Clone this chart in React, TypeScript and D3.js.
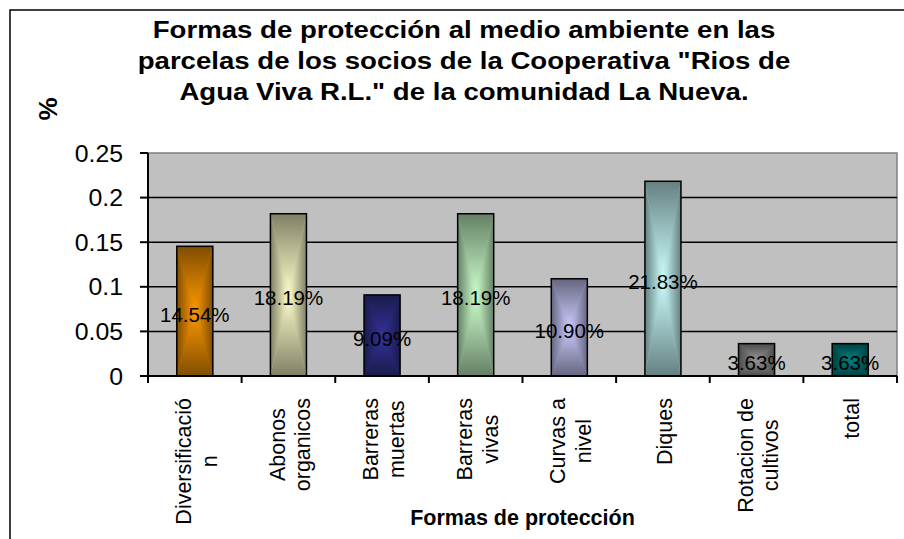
import { useEffect, useRef } from 'react';
import * as d3 from 'd3';

const titleLines = [
  'Formas de protección al medio ambiente en las',
  'parcelas de los socios de la Cooperativa "Rios de',
  'Agua Viva R.L." de la comunidad La Nueva.',
];
const categories = [
  ['Diversificació', 'n'],
  ['Abonos', 'organicos'],
  ['Barreras', 'muertas'],
  ['Barreras', 'vivas'],
  ['Curvas a', 'nivel'],
  ['Diques'],
  ['Rotacion de', 'cultivos'],
  ['total'],
];
const values = [0.1454, 0.1819, 0.0909, 0.1819, 0.109, 0.2183, 0.0363, 0.0363];
const valueLabels = ['14.54%', '18.19%', '9.09%', '18.19%', '10.90%', '21.83%', '3.63%', '3.63%'];
const barColors = ['#ff9900', '#ffffcc', '#333399', '#ccffcc', '#ccccff', '#ccffff', '#969696', '#008080'];
const yTicks = [0, 0.05, 0.1, 0.15, 0.2, 0.25];
const yTickLabels = ['0', '0.05', '0.1', '0.15', '0.2', '0.25'];

const W = 904;
const H = 539;
const plot = { left: 148, right: 897, top: 153, bottom: 376 };
const font = '"Liberation Sans", Arial, Helvetica, sans-serif';

export default function App() {
  const svgRef = useRef<SVGSVGElement>(null);

  useEffect(() => {
    if (!svgRef.current) return;
    const svg = d3.select(svgRef.current);
    svg.selectAll('*').remove();

    const ids = categories.map((_, i) => `c${i}`);
    const x = d3.scaleBand<string>().domain(ids).range([plot.left, plot.right]).paddingInner(0.615).paddingOuter(0.3075);
    const y = d3.scaleLinear().domain([0, 0.25]).range([plot.bottom, plot.top]);

    // chart area
    svg.append('rect').attr('x', 10).attr('y', 10).attr('width', 930).attr('height', 580)
      .attr('fill', '#fff').attr('stroke', '#000').attr('stroke-width', 1.5);

    // title
    titleLines.forEach((t, i) => {
      svg.append('g')
        .attr('transform', `translate(464,${38 + i * 31}) scale(1.15,1)`)
        .append('text')
        .attr('text-anchor', 'middle')
        .attr('font-family', font)
        .attr('font-weight', 'bold')
        .attr('font-size', 24)
        .text(t);
    });

    // plot area
    svg.append('rect')
      .attr('x', plot.left).attr('y', plot.top)
      .attr('width', plot.right - plot.left).attr('height', plot.bottom - plot.top)
      .attr('fill', '#c0c0c0').attr('stroke', '#808080').attr('stroke-width', 1.5);

    yTicks.filter((t) => t > 0 && t < 0.25).forEach((t) => {
      svg.append('line')
        .attr('x1', plot.left).attr('x2', plot.right)
        .attr('y1', y(t)).attr('y2', y(t))
        .attr('stroke', '#000').attr('stroke-width', 1.5);
    });

    // gradients: rectangular "from center" fill built from 4 triangles
    const defs = svg.append('defs');
    barColors.forEach((c, i) => {
      const dark = d3.interpolateRgb(c, '#000')(0.5);
      const mk = (id: string, vertical: boolean, inward: boolean) => {
        const g = defs.append('linearGradient').attr('id', id)
          .attr('x1', 0).attr('y1', 0)
          .attr('x2', vertical ? 0 : 1).attr('y2', vertical ? 1 : 0);
        g.append('stop').attr('offset', 0).attr('stop-color', inward ? dark : c);
        g.append('stop').attr('offset', 1).attr('stop-color', inward ? c : dark);
      };
      mk(`gl${i}`, false, true);
      mk(`gr${i}`, false, false);
      mk(`gt${i}`, true, true);
      mk(`gb${i}`, true, false);
    });

    values.forEach((v, i) => {
      const x0 = x(ids[i])!;
      const x1 = x0 + x.bandwidth();
      const y0 = y(v);
      const y1 = y(0);
      const cx = (x0 + x1) / 2;
      const cy = (y0 + y1) / 2;
      const g = svg.append('g');
      g.append('rect').attr('x', x0).attr('y', y0).attr('width', x1 - x0).attr('height', y1 - y0)
        .attr('fill', d3.interpolateRgb(barColors[i], '#000')(0.25));
      const tri = (pts: number[][], fill: string) =>
        g.append('polygon').attr('points', pts.map((p) => p.join(',')).join(' ')).attr('fill', `url(#${fill})`);
      tri([[x0, y0], [cx, cy], [x0, y1]], `gl${i}`);
      tri([[x1, y0], [cx, cy], [x1, y1]], `gr${i}`);
      tri([[x0, y0], [x1, y0], [cx, cy]], `gt${i}`);
      tri([[x0, y1], [x1, y1], [cx, cy]], `gb${i}`);
      g.append('rect').attr('x', x0).attr('y', y0).attr('width', x1 - x0).attr('height', y1 - y0)
        .attr('fill', 'none').attr('stroke', '#000').attr('stroke-width', 1.5);
    });

    // axes
    svg.append('line').attr('x1', plot.left).attr('x2', plot.left).attr('y1', plot.top).attr('y2', plot.bottom)
      .attr('stroke', '#000').attr('stroke-width', 2);
    yTicks.forEach((t, i) => {
      svg.append('line').attr('x1', plot.left - 8).attr('x2', plot.left).attr('y1', y(t)).attr('y2', y(t))
        .attr('stroke', '#000').attr('stroke-width', 2);
      svg.append('g').attr('transform', `translate(123,${y(t) + 8.5}) scale(1.08,1)`)
        .append('text')
        .attr('text-anchor', 'end').attr('font-family', font).attr('font-size', 23)
        .text(yTickLabels[i]);
    });
    svg.append('line').attr('x1', plot.left - 1).attr('x2', plot.right).attr('y1', plot.bottom).attr('y2', plot.bottom)
      .attr('stroke', '#000').attr('stroke-width', 2);
    d3.range(ids.length + 1).forEach((k) => {
      const bx = plot.left + k * x.step();
      svg.append('line').attr('x1', bx).attr('x2', bx).attr('y1', plot.bottom).attr('y2', plot.bottom + 7)
        .attr('stroke', '#000').attr('stroke-width', 2);
    });

    // value labels
    values.forEach((v, i) => {
      svg.append('text')
        .attr('x', x(ids[i])! + x.bandwidth() / 2)
        .attr('y', (y(v) + y(0)) / 2 + 10.5)
        .attr('text-anchor', 'middle').attr('font-family', font).attr('font-size', 20.5)
        .text(valueLabels[i]);
    });

    // category labels (rotated, lines centred on each other, top aligned)
    categories.forEach((lines, i) => {
      const cxp = x(ids[i])! + x.bandwidth() / 2;
      const g = svg.append('g').attr('transform', `translate(${cxp},398) rotate(-90)`);
      const texts = lines.map((l, j) =>
        g.append('text')
          .attr('y', 9 + (j - (lines.length - 1) / 2) * 25.7)
          .attr('text-anchor', 'middle').attr('font-family', font).attr('font-size', 21.5)
          .text(l),
      );
      const maxW = d3.max(texts, (t) => (t.node() as SVGTextElement).getComputedTextLength()) ?? 0;
      texts.forEach((t) => t.attr('x', -maxW / 2));
    });

    // axis titles
    svg.append('text').attr('x', (plot.left + plot.right) / 2).attr('y', 525)
      .attr('text-anchor', 'middle').attr('font-family', font).attr('font-weight', 'bold').attr('font-size', 21.5)
      .text('Formas de protección');
    svg.append('g').attr('transform', 'translate(48,109) rotate(-90)')
      .append('text').attr('y', 9).attr('text-anchor', 'middle')
      .attr('font-family', font).attr('font-weight', 'bold').attr('font-size', 26)
      .text('%');
  }, []);

  return (
    <svg
      ref={svgRef}
      width={W}
      height={H}
      style={{ position: 'absolute', left: 0, top: 0, background: '#fff' }}
    />
  );
}
